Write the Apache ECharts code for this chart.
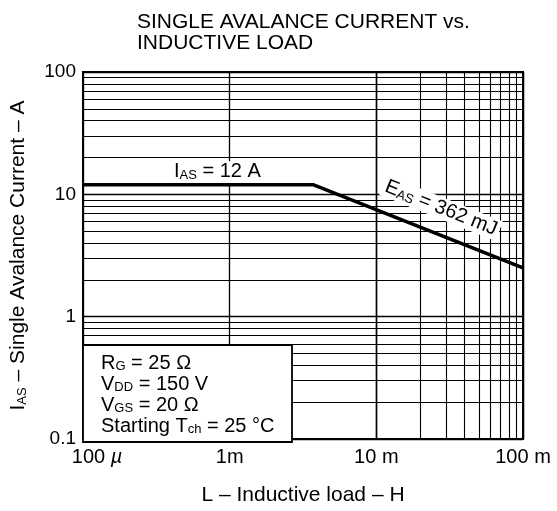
<!DOCTYPE html>
<html>
<head>
<meta charset="utf-8">
<script src="https://cdn.jsdelivr.net/npm/echarts@6/dist/echarts.min.js"></script>
<style>
  html, body { margin: 0; padding: 0; background: #fff; }
  #chart { width: 557px; height: 511px; }
</style>
</head>
<body>
<div id="chart"></div>
<script>
// avalanche current limit vs inductance (L in H, I in A)
const inductance = [1e-4, 3.7e-3, 1e-1]
const current = [12, 12, 2.5]

const xDecades = [1e-4, 1e-3, 1e-2]
const yDecades = [0.1, 1, 10]
const minorSteps = [2, 3, 4, 5, 6, 7, 8, 9]
const xTickLabels = ['{p|100 }{mu|µ}', '1m', '10 m', '100 m'] // for 1e-4 .. 1e-1
const yTickLabels = ['0.1', '1', '10', '100'] // for 0.1 .. 100

const FONT = '"Liberation Sans", Arial, Helvetica, sans-serif'

let minorX = []
xDecades.forEach(d => minorSteps.forEach(k => minorX.push({ xAxis: k * d })))
let minorY = []
yDecades.forEach(d => minorSteps.forEach(k => minorY.push({ yAxis: k * d })))

let chart = echarts.init(document.getElementById('chart'))

let option = {
  animation: false,
  backgroundColor: '#fff',
  title: {
    text: 'SINGLE AVALANCE CURRENT vs.\nINDUCTIVE LOAD',
    left: 132,
    top: 7,
    textStyle: { fontFamily: FONT, fontSize: 21, fontWeight: 'normal', color: '#000', lineHeight: 21 }
  },
  grid: {
    left: 83, right: 34, top: 72, bottom: 69,
    show: true, borderColor: '#000', borderWidth: 2, backgroundColor: '#fff'
  },
  xAxis: {
    type: 'log',
    logBase: 10,
    min: 1e-4,
    max: 1e-1,
    name: 'L – Inductive load – H',
    nameLocation: 'middle',
    nameGap: 46,
    nameTextStyle: { fontFamily: FONT, fontSize: 21, color: '#000' },
    axisLine: { lineStyle: { color: '#000', width: 2 } },
    axisTick: { show: false },
    axisLabel: {
      fontFamily: FONT, fontSize: 20, color: '#000', margin: 8,
      formatter: v => xTickLabels[Math.round(Math.log10(v)) + 4],
      rich: {
        p: { fontFamily: FONT, fontSize: 20, color: '#000', padding: [0, 0, 0, 28] },
        mu: { fontFamily: FONT, fontSize: 20, fontStyle: 'italic', color: '#000' }
      }
    },
    splitLine: { show: true, lineStyle: { color: '#000', width: 1.3 } }
  },
  yAxis: {
    type: 'log',
    logBase: 10,
    min: 0.1,
    max: 100,
    name: '{n|I}{s|AS}{n| – Single Avalance Current – A}',
    nameLocation: 'middle',
    nameGap: 54,
    nameTextStyle: {
      color: '#000',
      rich: {
        n: { fontFamily: FONT, fontSize: 21, color: '#000' },
        s: { fontFamily: FONT, fontSize: 13, color: '#000', padding: [7, 0, 0, 0] }
      }
    },
    axisLine: { lineStyle: { color: '#000', width: 2 } },
    axisTick: { show: false },
    axisLabel: {
      fontFamily: FONT, fontSize: 19, color: '#000', margin: 7,
      formatter: v => yTickLabels[Math.round(Math.log10(v)) + 1]
    },
    splitLine: { show: true, lineStyle: { color: '#000', width: 1.3 } }
  },
  series: [
    {
      type: 'line',
      data: inductance.map((l, i) => [l, current[i]]),
      symbol: 'none',
      lineStyle: { color: '#000', width: 3.5 },
      z: 5,
      markLine: {
        silent: true,
        symbol: 'none',
        label: { show: false },
        lineStyle: { color: '#000', width: 1.1, type: 'solid' },
        data: minorX.concat(minorY)
      }
    }
  ]
}

chart.setOption(option)

// annotations
const richBase = {
  n: { fontFamily: FONT, fontSize: 20, color: '#000', lineHeight: 21 },
  s: { fontFamily: FONT, fontSize: 13, color: '#000', lineHeight: 21, padding: [7, 0, 0, 0] }
}

chart.setOption({
  graphic: [
    {
      type: 'rect', z: 100,
      shape: { x: 83, y: 345, width: 209, height: 97 },
      style: { fill: '#fff', stroke: '#000', lineWidth: 1.8 }
    },
    {
      type: 'text', z: 101, left: 101, top: 353,
      style: {
        text: '{n|R}{s|G}{n| = 25 Ω}\n{n|V}{s|DD}{n| = 150 V}\n{n|V}{s|GS}{n| = 20 Ω}\n{n|Starting T}{s|ch}{n| = 25 °C}',
        rich: richBase
      }
    },
    {
      type: 'text', z: 101, left: 170, top: 161,
      style: {
        text: '{n|I}{s|AS}{n| = 12 A}',
        rich: richBase,
        backgroundColor: '#fff',
        padding: [0, 4, 1, 4]
      }
    },
    {
      type: 'text', z: 101,
      x: 441, y: 208,
      rotation: -0.38,
      style: {
        text: '{n|E}{s|AS}{n| = 362 mJ}',
        rich: richBase,
        align: 'center',
        verticalAlign: 'middle',
        backgroundColor: '#fff',
        padding: [0, 3, 0, 3]
      }
    }
  ]
})
</script>
</body>
</html>
